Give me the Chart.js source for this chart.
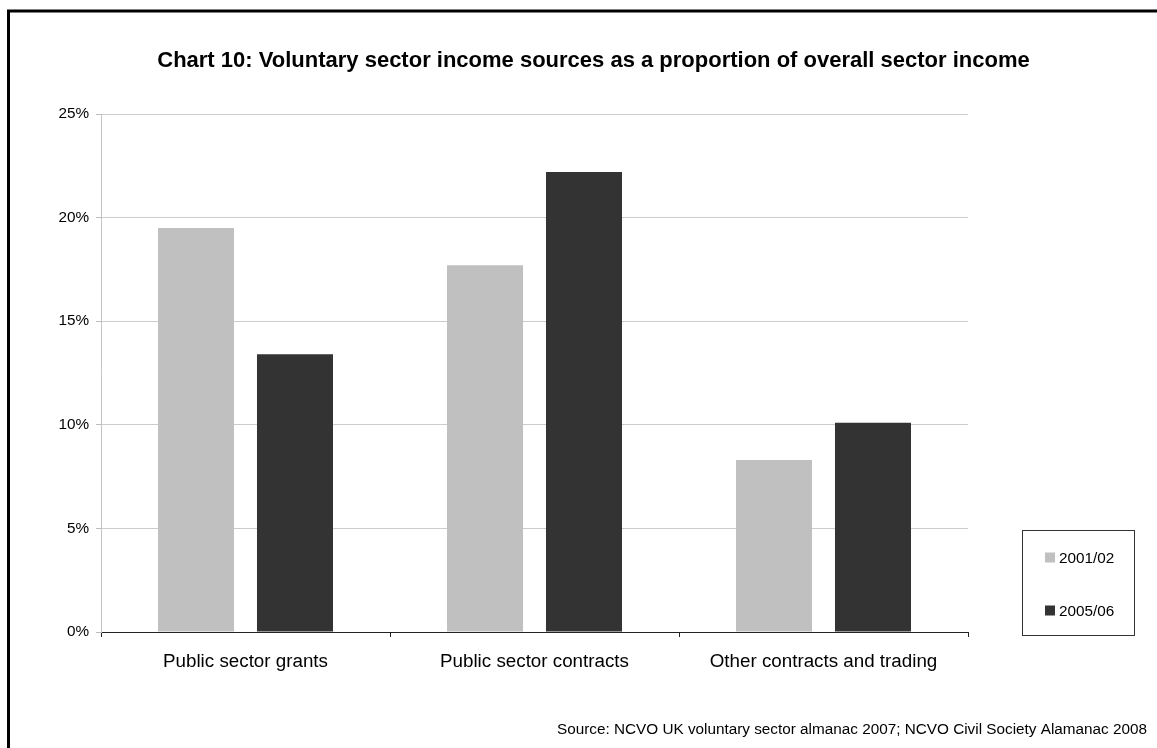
<!DOCTYPE html>
<html>
<head>
<meta charset="utf-8">
<title>Voluntary sector income sources</title>
<script src="https://cdn.jsdelivr.net/npm/chart.js@4/dist/chart.umd.min.js"></script>
<style>
  html, body { margin: 0; padding: 0; background: #ffffff; }
  #wrap { width: 1157px; height: 748px; }
</style>
</head>
<body>
<div id="wrap"><canvas id="chart" width="1157" height="748"></canvas></div>
<script>
// Income source categories
const categories = ['Public sector grants', 'Public sector contracts', 'Other contracts and trading'];
// Share of overall sector income (%)
const income2001 = [19.5, 17.7, 8.3];
const income2005 = [13.4, 22.2, 10.1];
const seriesLabels = ['2001/02', '2005/06'];
// Value axis ticks (%)
const yTicks = [0, 5, 10, 15, 20, 25];

const titleText = 'Chart 10: Voluntary sector income sources as a proportion of overall sector income';
const sourceText = 'Source: NCVO UK voluntary sector almanac 2007; NCVO Civil Society Alamanac 2008';

const FONT = "'Liberation Sans', Arial, sans-serif";

// Frame, title, boxed legend and source note
const decorations = {
  id: 'decorations',
  afterDraw(chart) {
    const ctx = chart.ctx;
    ctx.save();
    // outer frame
    ctx.strokeStyle = '#000000';
    ctx.lineWidth = 3;
    ctx.strokeRect(8.5, 11, 2000, 2000);

    // title
    ctx.fillStyle = '#000000';
    ctx.font = 'bold 22px ' + FONT;
    ctx.textAlign = 'center';
    ctx.textBaseline = 'alphabetic';
    ctx.fillText(titleText, 593.5, 67);

    // legend box
    ctx.lineWidth = 1;
    ctx.strokeStyle = '#333333';
    ctx.strokeRect(1022.5, 530.5, 112, 105);
    ctx.font = '15.3px ' + FONT;
    ctx.textAlign = 'left';
    const rows = [557.5, 610.5];
    chart.data.datasets.forEach((ds, i) => {
      ctx.fillStyle = ds.backgroundColor;
      ctx.fillRect(1045, rows[i] - 5, 10, 10);
      ctx.fillStyle = '#000000';
      ctx.fillText(ds.label, 1059, rows[i] + 5.5);
    });

    // source note
    ctx.font = '15.3px ' + FONT;
    ctx.textAlign = 'right';
    ctx.fillText(sourceText, 1147, 734);
    ctx.restore();
  }
};

new Chart(document.getElementById('chart'), {
  type: 'bar',
  data: {
    labels: categories,
    datasets: [
      { label: seriesLabels[0], data: income2001, backgroundColor: '#c0c0c0', borderWidth: 0 },
      { label: seriesLabels[1], data: income2005, backgroundColor: '#333333', borderWidth: 0 }
    ]
  },
  options: {
    responsive: false,
    devicePixelRatio: 1,
    animation: false,
    layout: { padding: { top: 114, right: 189, left: 0, bottom: 0 } },
    datasets: { bar: { categoryPercentage: 0.685, barPercentage: 0.768 } },
    plugins: {
      legend: { display: false },
      title: { display: false },
      tooltip: { enabled: false }
    },
    scales: {
      x: {
        afterFit(scale) { scale.height = 116; },
        grid: { drawOnChartArea: false, drawTicks: true, tickLength: 5, tickColor: '#222222', offset: true },
        border: { color: '#222222', width: 1 },
        ticks: { color: '#000000', font: { family: FONT, size: 18.8 }, padding: 14, maxRotation: 0 }
      },
      y: {
        min: yTicks[0],
        max: yTicks[yTicks.length - 1],
        afterFit(scale) { scale.width = 101; },
        afterBuildTicks(scale) { scale.ticks = yTicks.map(v => ({ value: v })); },
        grid: { color: '#cccccc', tickLength: 5, tickColor: '#bbbbbb' },
        border: { color: '#c4c4c4', width: 1 },
        ticks: {
          color: '#000000',
          font: { family: FONT, size: 15.3 },
          padding: 7,
          callback: v => v + '%'
        }
      }
    }
  },
  plugins: [decorations]
});
</script>
</body>
</html>
